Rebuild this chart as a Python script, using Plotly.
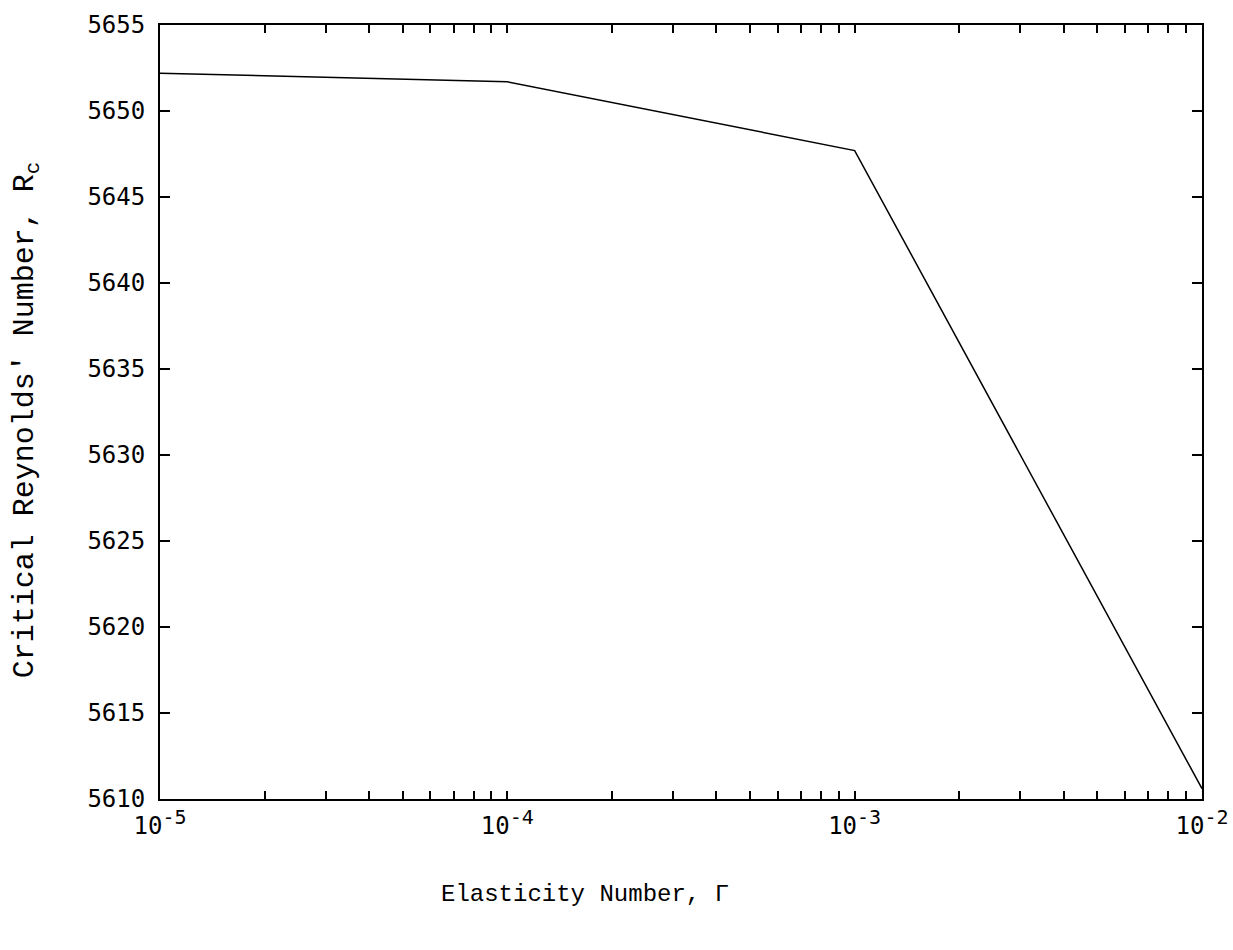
import plotly.graph_objects as go

# Data
elasticity = [1e-5, 1e-4, 1e-3, 1e-2]
reynolds_c = [5652.2, 5651.7, 5647.7, 5610.6]

# Axis ticks
x_decades = [1e-5, 1e-4, 1e-3, 1e-2]
x_exponents = ["-5", "-4", "-3", "-2"]
y_ticks = [5610, 5615, 5620, 5625, 5630, 5635, 5640, 5645, 5650, 5655]

x_decade_labels = [
    "10<sup><span style='font-size:20px'>" + e + "</span></sup>" for e in x_exponents
]

# all x tick positions (2..10 per decade), labelled only at decades
x_tickvals = []
x_ticktext = []
for d, lab in zip(x_decades[:-1], x_decade_labels[:-1]):
    for m in range(1, 10):
        x_tickvals.append(d * m)
        x_ticktext.append(lab if m == 1 else "")
x_tickvals.append(x_decades[-1])
x_ticktext.append(x_decade_labels[-1])

tick_font = dict(family="DejaVu Sans Mono", size=24, color="black")
serif_mono = "Liberation Mono, Courier New, Courier, monospace"
title_font = dict(family=serif_mono, size=24, color="black")

fig = go.Figure()
fig.add_trace(go.Scatter(
    x=elasticity, y=reynolds_c, mode="lines",
    line=dict(color="black", width=1.5), showlegend=False,
))

fig.update_xaxes(
    type="log", range=[-5, -2],
    tickvals=x_tickvals, ticktext=x_ticktext,
    ticks="inside", ticklen=8, tickwidth=1.5, tickcolor="black",
    showline=True, linecolor="black", linewidth=2, mirror="allticks",
    showgrid=False, zeroline=False, tickfont=tick_font,
    ticklabelstandoff=4, ticklabeloverflow="allow", automargin=False,
)
fig.update_yaxes(
    range=[5610, 5655], tickvals=y_ticks,
    ticks="inside", ticklen=10, tickwidth=1.5, tickcolor="black",
    showline=True, linecolor="black", linewidth=2, mirror="allticks",
    showgrid=False, zeroline=False, tickfont=tick_font,
    ticklabelstandoff=8, automargin=False,
)

fig.add_annotation(
    text="Elasticity Number, \u0393", xref="paper", yref="paper",
    x=0.408, y=-0.123, xanchor="center", yanchor="middle",
    showarrow=False, font=title_font,
)
fig.add_annotation(
    text="Critical Reynolds\u2032 Number, R<sub>c</sub>", xref="paper", yref="paper",
    x=-0.128, y=0.49, xanchor="center", yanchor="middle", textangle=-90,
    showarrow=False, font=dict(family=serif_mono, size=30, color="black"),
)

fig.update_layout(
    width=1233, height=950,
    margin=dict(l=160, r=31, t=25, b=151),
    plot_bgcolor="white", paper_bgcolor="white",
)

fig.write_html("out.html")
